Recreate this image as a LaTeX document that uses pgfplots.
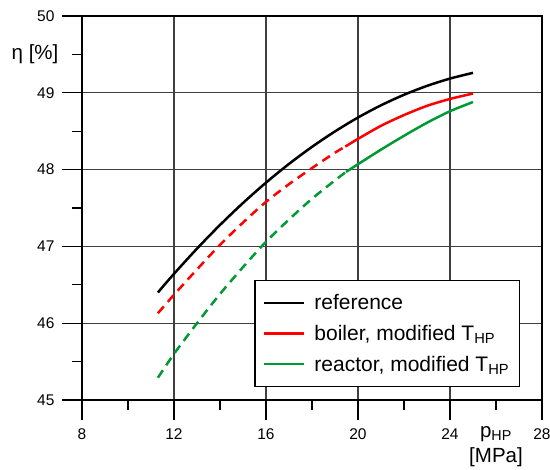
\documentclass[border=0pt]{standalone}
\usepackage{fontspec}
\setmainfont{Liberation Sans}
\usepackage{pgfplots}
\pgfplotsset{compat=1.18}
\definecolor{cred}{RGB}{255,0,0}
\definecolor{cgreen}{RGB}{0,153,51}
\begin{document}
\begin{tikzpicture}
\useasboundingbox (0,0) rectangle (550pt,470pt);
\begin{axis}[
  at={(82pt,70pt)}, anchor=south west,
  scale only axis, width=460pt, height=384pt,
  xmin=8, xmax=28, ymin=45, ymax=50,
  xtick={8,12,16,20,24,28},
  ytick={45,46,47,48,49,50},
  minor x tick num=1, minor y tick num=1,
  tick pos=left, tick align=outside,
  major tick length=20pt, minor tick length=10pt,
  every tick/.style={black, line width=1.2pt},
  grid=major,
  major grid style={black!75, line width=1.2pt},
  axis line style={black, line width=1.3pt},
  /pgf/number format/assume math mode=true,
  tick label style={font=\fontsize{15.5}{18}\selectfont},
  xticklabel style={yshift=-5pt},
  yticklabel style={xshift=-4pt},
  clip=false,
  legend style={at={(0.952,0.313)}, anchor=north east,
    draw=black, line width=1.3pt,
    font=\fontsize{21}{24}\selectfont,
    row sep=10pt, inner xsep=8pt, inner ysep=12pt},
  legend cell align=left,
  legend image code/.code={\draw[#1, line width=2.5pt] (0pt,0pt) -- (40pt,0pt); \path (47pt,0pt);},
]
\addplot[black, line width=2.5pt, smooth] coordinates {
(11.3,46.40) (12,46.643) (13,46.971) (14,47.279) (15,47.565) (16,47.830)
(17,48.074) (18,48.296) (19,48.497) (20,48.678) (21,48.837) (22,48.974)
(23,49.090) (24,49.185) (25,49.26)};
\addlegendentry{reference}
\addplot[cred, line width=2.5pt, smooth, dash pattern=on 9pt off 6pt, forget plot] coordinates {
(11.3,46.13) (12,46.37) (13,46.70) (14,47.02) (15,47.31) (16,47.58)
(17,47.81) (18,48.02) (19,48.22) (19.45,48.30)};
\addplot[cred, line width=2.5pt, smooth] coordinates {
(19.45,48.30) (20,48.40) (21,48.57) (22,48.71) (23,48.83) (24,48.92) (25,48.99)};
\addlegendentry{boiler, modified T\textsubscript{HP}}
\addplot[cgreen, line width=2.5pt, smooth, dash pattern=on 9pt off 6pt, forget plot] coordinates {
(11.3,45.29) (12,45.60) (13,46.00) (14,46.38) (15,46.73) (16,47.06)
(17,47.35) (18,47.62) (19,47.86) (19.48,47.97)};
\addplot[cgreen, line width=2.5pt, smooth] coordinates {
(19.48,47.97) (20,48.07) (21,48.26) (22,48.44) (23,48.61) (24,48.76) (25,48.88)};
\addlegendentry{reactor, modified T\textsubscript{HP}}
\node[font=\fontsize{20.5}{24}\selectfont, anchor=center] at (axis cs:5.96,49.5) {η [\%]};
\node[font=\fontsize{20.5}{24}\selectfont, anchor=base] at ([yshift=-37.5pt]axis cs:26,45) {p\textsubscript{HP}};
\node[font=\fontsize{20.5}{24}\selectfont, anchor=base] at ([yshift=-63pt]axis cs:26,45) {[MPa]};
\end{axis}
\end{tikzpicture}
\end{document}
